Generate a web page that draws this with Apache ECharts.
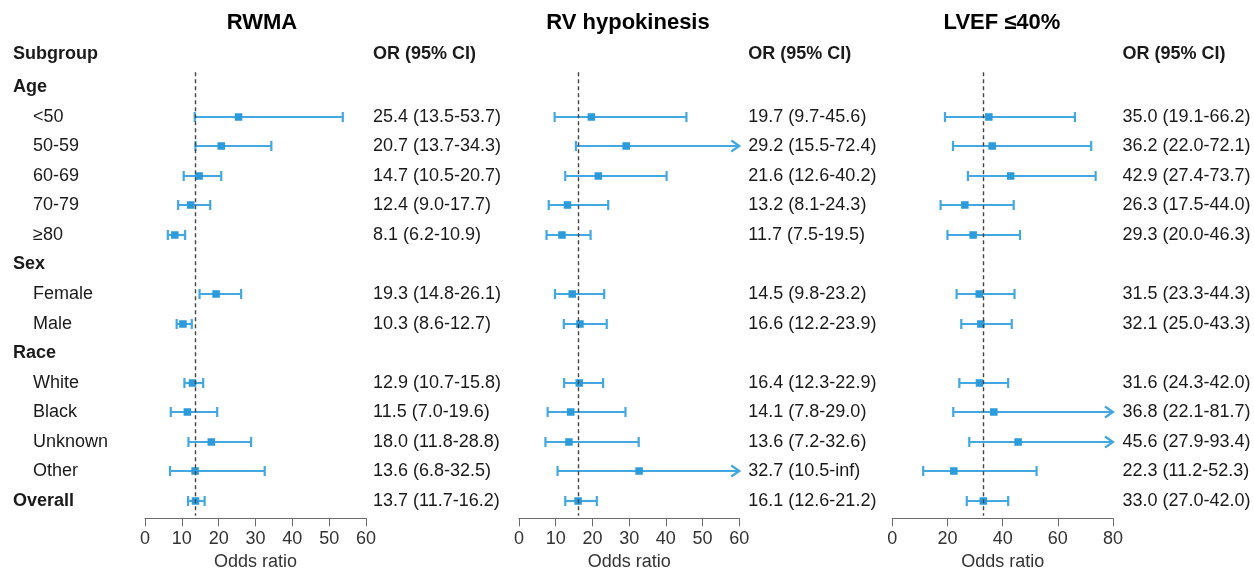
<!DOCTYPE html>
<html>
<head>
<meta charset="utf-8">
<script src="https://cdn.jsdelivr.net/npm/echarts@6/dist/echarts.min.js"></script>
<style>html,body{margin:0;padding:0;background:#fff}#c{width:1254px;height:571px}</style>
</head>
<body>
<div id="c"></div>
<script>
// ---------- data ----------
const rows = ['Age','<50','50-59','60-69','70-79','≥80','Sex','Female','Male','Race','White','Black','Unknown','Other','Overall'];
const groupRows = ['Age','Sex','Race','Overall'];
const dataRows = ['<50','50-59','60-69','70-79','≥80','Female','Male','White','Black','Unknown','Other','Overall'];

const panelTitles = ['RWMA','RV hypokinesis','LVEF ≤40%'];

const rwmaOR = [25.4, 20.7, 14.7, 12.4, 8.1, 19.3, 10.3, 12.9, 11.5, 18.0, 13.6, 13.7];
const rwmaLo = [13.5, 13.7, 10.5, 9.0, 6.2, 14.8, 8.6, 10.7, 7.0, 11.8, 6.8, 11.7];
const rwmaHi = [53.7, 34.3, 20.7, 17.7, 10.9, 26.1, 12.7, 15.8, 19.6, 28.8, 32.5, 16.2];

const rvOR = [19.7, 29.2, 21.6, 13.2, 11.7, 14.5, 16.6, 16.4, 14.1, 13.6, 32.7, 16.1];
const rvLo = [9.7, 15.5, 12.6, 8.1, 7.5, 9.8, 12.2, 12.3, 7.8, 7.2, 10.5, 12.6];
const rvHi = [45.6, 72.4, 40.2, 24.3, 19.5, 23.2, 23.9, 22.9, 29.0, 32.6, Infinity, 21.2];

const lvefOR = [35.0, 36.2, 42.9, 26.3, 29.3, 31.5, 32.1, 31.6, 36.8, 45.6, 22.3, 33.0];
const lvefLo = [19.1, 22.0, 27.4, 17.5, 20.0, 23.3, 25.0, 24.3, 22.1, 27.9, 11.2, 27.0];
const lvefHi = [66.2, 72.1, 73.7, 44.0, 46.3, 44.3, 43.3, 42.0, 81.7, 93.4, 52.3, 42.0];

const rwmaTicks = [0, 10, 20, 30, 40, 50, 60];
const rvTicks = [0, 10, 20, 30, 40, 50, 60];
const lvefTicks = [0, 20, 40, 60, 80];

// ---------- layout / style ----------
const FONT = '"Liberation Sans", Arial, Helvetica, sans-serif';
const TXT = '#1a1a1a';
const CI_COLOR = '#43a8e2';
const PT_COLOR = '#2b9bdc';
const gridTop = 72.2, gridH = 443.6;
const panels = [
  {title: panelTitles[0], or: rwmaOR, lo: rwmaLo, hi: rwmaHi, ticks: rwmaTicks, left: 145, width: 221, textMargin: 7, titleX: 262},
  {title: panelTitles[1], or: rvOR, lo: rvLo, hi: rvHi, ticks: rvTicks, left: 519, width: 220.3, textMargin: 9, titleX: 628},
  {title: panelTitles[2], or: lvefOR, lo: lvefLo, hi: lvefHi, ticks: lvefTicks, left: 892.3, width: 220.7, textMargin: 9.5, titleX: 1002}
];

function fmt(v){ return v === Infinity ? 'inf' : v.toFixed(1); }

const grids = [], xAxes = [], yAxes = [], series = [], graphics = [];

// left label axis (panel 0)
yAxes.push({
  type: 'category', gridIndex: 0, inverse: true, data: rows, position: 'left',
  axisLine: {show: false}, axisTick: {show: false},
  axisLabel: {
    align: 'left', margin: 145 - 13,
    formatter: v => groupRows.includes(v) ? '{g|' + v + '}' : '{s|' + v + '}',
    rich: {
      g: {fontFamily: FONT, fontSize: 18, fontWeight: 'bold', color: TXT},
      s: {fontFamily: FONT, fontSize: 18, color: TXT, padding: [0, 0, 0, 20]}
    }
  }
});

panels.forEach((p, i) => {
  grids.push({left: p.left, top: gridTop, width: p.width, height: gridH, containLabel: false, outerBoundsMode: 'none'});
  const xmin = p.ticks[0], xmax = p.ticks[p.ticks.length - 1];
  xAxes.push({
    type: 'value', gridIndex: i, min: xmin, max: xmax, interval: p.ticks[1] - p.ticks[0],
    offset: 2.5,
    splitLine: {show: false},
    axisLine: {show: true, lineStyle: {color: '#6a6a6a', width: 1}},
    axisTick: {show: true, length: 8, lineStyle: {color: '#6a6a6a', width: 1}},
    axisLabel: {fontFamily: FONT, fontSize: 18, color: '#333', margin: 12},
    name: 'Odds ratio', nameLocation: 'middle', nameGap: 33,
    nameTextStyle: {fontFamily: FONT, fontSize: 18, color: '#333'}
  });
  const orText = {};
  dataRows.forEach((r, k) => { orText[r] = fmt(p.or[k]) + ' (' + fmt(p.lo[k]) + '-' + fmt(p.hi[k]) + ')'; });
  yAxes.push({
    type: 'category', gridIndex: i, inverse: true, data: rows, position: 'right',
    axisLine: {show: false}, axisTick: {show: false},
    axisLabel: {
      align: 'left', margin: p.textMargin, fontFamily: FONT, fontSize: 18, color: TXT,
      formatter: v => orText[v] || ''
    }
  });
  const data = dataRows.map((r, k) => {
    const clipped = p.hi[k] > xmax ? 1 : 0;
    return [rows.indexOf(r), p.lo[k], p.or[k], Math.min(p.hi[k], xmax), clipped];
  });
  const overall = p.or[dataRows.indexOf('Overall')];
  series.push({
    type: 'custom', xAxisIndex: i, yAxisIndex: i === 0 ? 0 : i + 1,
    encode: {x: [1, 2, 3], y: 0},
    data: data,
    clip: false,
    renderItem: (params, api) => {
      const row = api.value(0);
      const a = api.coord([api.value(1), row]);
      const c = api.coord([api.value(2), row]);
      const b = api.coord([api.value(3), row]);
      const clipped = api.value(4) === 1;
      const y = Math.round(a[1]);
      const ls = {stroke: CI_COLOR, lineWidth: 2.2, fill: null};
      const ch = [
        {type: 'line', shape: {x1: a[0], y1: y, x2: b[0], y2: y}, style: ls},
        {type: 'line', shape: {x1: a[0], y1: y - 5, x2: a[0], y2: y + 5}, style: ls}
      ];
      if (clipped) {
        ch.push({type: 'polyline', shape: {points: [[b[0] - 8, y - 5.5], [b[0], y], [b[0] - 8, y + 5.5]]}, style: ls});
      } else {
        ch.push({type: 'line', shape: {x1: b[0], y1: y - 5, x2: b[0], y2: y + 5}, style: ls});
      }
      ch.push({type: 'rect', shape: {x: c[0] - 3.75, y: y - 3.75, width: 7.5, height: 7.5}, style: {fill: PT_COLOR}});
      return {type: 'group', children: ch};
    },
    markLine: {
      silent: true, symbol: 'none', label: {show: false}, animation: false,
      lineStyle: {type: [4, 3], color: '#444', width: 1.4},
      data: [{xAxis: overall}]
    },
    animation: false
  });
  graphics.push({type: 'text', x: p.titleX, y: 23, style: {text: p.title, fontFamily: FONT, fontSize: 22, fontWeight: 'bold', fill: '#000', align: 'center', verticalAlign: 'middle'}});
  graphics.push({type: 'text', x: p.left + p.width + p.textMargin, y: 54, style: {text: 'OR (95% CI)', fontFamily: FONT, fontSize: 18, fontWeight: 'bold', fill: TXT, align: 'left', verticalAlign: 'middle'}});
});
graphics.push({type: 'text', x: 13, y: 54, style: {text: 'Subgroup', fontFamily: FONT, fontSize: 18, fontWeight: 'bold', fill: TXT, align: 'left', verticalAlign: 'middle'}});

const chart = echarts.init(document.getElementById('c'), null, {renderer: 'canvas'});
chart.setOption({
  animation: false,
  backgroundColor: '#fff',
  grid: grids, xAxis: xAxes, yAxis: yAxes, series: series, graphic: graphics
});
</script>
</body>
</html>
